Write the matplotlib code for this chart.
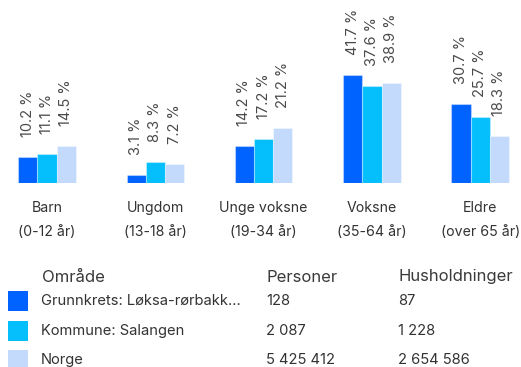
import matplotlib.pyplot as plt
from matplotlib.patches import Rectangle

plt.rcParams['font.family'] = ['Inter', 'DejaVu Sans']

# Age groups and share of population per area (%)
categories = ['Barn', 'Ungdom', 'Unge voksne', 'Voksne', 'Eldre']
age_ranges = ['(0-12 år)', '(13-18 år)', '(19-34 år)', '(35-64 år)', '(over 65 år)']
grunnkrets = [10.2, 3.1, 14.2, 41.7, 30.7]
kommune = [11.1, 8.3, 17.2, 37.6, 25.7]
norge = [14.5, 7.2, 21.2, 38.9, 18.3]

areas = ['Grunnkrets: Løksa-rørbakk…', 'Kommune: Salangen', 'Norge']
personer = ['128', '2 087', '5 425 412']
husholdninger = ['87', '1 228', '2 654 586']
colors = ['#0062ff', '#05bffc', '#c3dafc']

W, H = 521, 367
fig = plt.figure(figsize=(W / 100, H / 100), dpi=100)

# axes area: baseline sits at y=183 px from the top
ax = fig.add_axes([0, 184 / H, 1, 183 / H])
group_gap = 108.3
bar_w = 19.2 / group_gap
ax.set_xlim(-47 / group_gap, (W - 47) / group_gap)
ax.set_ylim(0, 183 / 2.58)
ax.axis('off')

for i, series in enumerate([grunnkrets, kommune, norge]):
    xs = [g + (i - 1) * bar_w for g in range(len(categories))]
    ax.bar(xs, series, width=bar_w, color=colors[i],
           edgecolor=(1, 1, 1, 0.35), linewidth=0.8)
    for x, v in zip(xs, series):
        ax.annotate(f'{v} %', (x, v), xytext=(0, 20), textcoords='offset pixels',
                    rotation=90, ha='center', va='bottom', fontsize=10.5,
                    color='#4a4a4a')

def fx(px):
    return px / W

def fy(py):
    return 1 - py / H

for g, (name, rng) in enumerate(zip(categories, age_ranges)):
    cx = 47 + g * group_gap
    fig.text(fx(cx), fy(208), name, ha='center', va='center', fontsize=10.2, color='#333333')
    fig.text(fx(cx), fy(232), rng, ha='center', va='center', fontsize=10.2, color='#333333')

# legend table
fig.text(fx(42), fy(277), 'Område', va='center', fontsize=12, color='#3a3a3a')
fig.text(fx(266), fy(277), 'Personer', va='center', fontsize=12, color='#3a3a3a')
fig.text(fx(398), fy(277), 'Husholdninger', va='center', fontsize=12, color='#3a3a3a')

row_y = [301, 331, 360]
for area, p, h, c, y in zip(areas, personer, husholdninger, colors, row_y):
    fig.add_artist(Rectangle((fx(8), fy(y + 10)), 20 / W, 20 / H,
                             transform=fig.transFigure, color=c, lw=0))
    fig.text(fx(41), fy(y), area, va='center', fontsize=10.6, color='#333333')
    fig.text(fx(266), fy(y), p, va='center', fontsize=10.6, color='#333333')
    fig.text(fx(398), fy(y), h, va='center', fontsize=10.6, color='#333333')

fig.savefig('out.png', dpi=100)
